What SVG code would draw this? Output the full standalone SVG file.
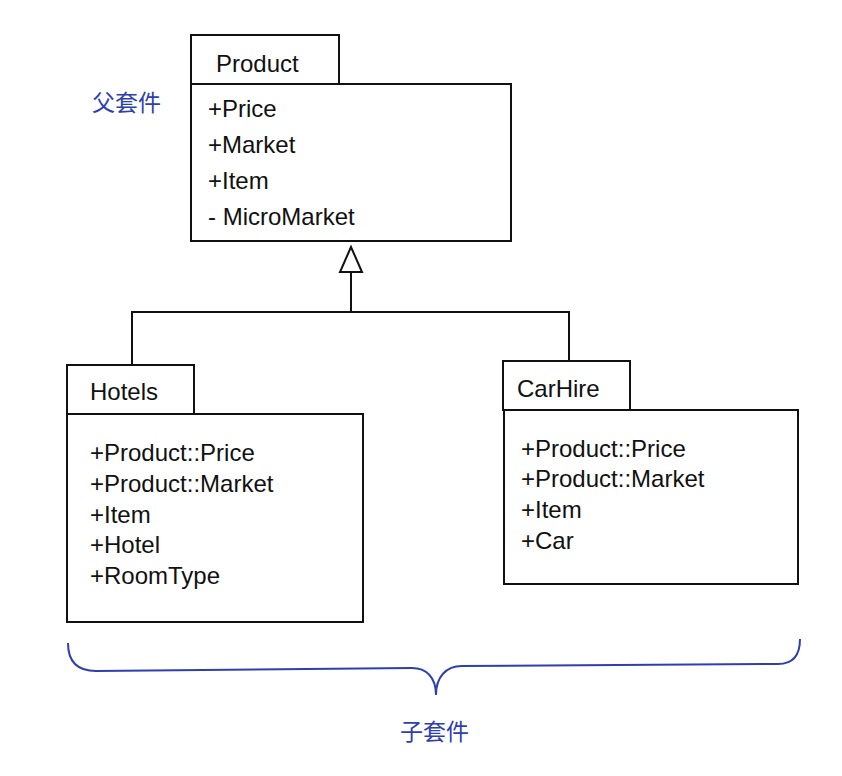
<svg xmlns="http://www.w3.org/2000/svg" width="842" height="776" viewBox="0 0 842 776">
<style>
.box{fill:#fff;stroke:#111;stroke-width:2}
.t{font-family:"Liberation Sans",Arial,sans-serif;font-size:24px;fill:#111}
.cn{font-family:"Noto Sans CJK SC","Noto Sans",sans-serif;font-size:23px;fill:#2f3fae}
.con{fill:none;stroke:#111;stroke-width:2}
</style>
<rect width="842" height="776" fill="#fff"/>
<g id="connectors">
<polyline class="con" points="132,365 132,312 569,312 569,361"/>
<line class="con" x1="351" y1="272" x2="351" y2="312"/>
<polygon points="351,247 340,272 362,272" fill="#fff" stroke="#111" stroke-width="2"/>
</g>
<g id="product">
<rect class="box" x="191" y="35" width="148" height="49"/>
<rect class="box" x="191" y="84" width="320" height="157"/>
<text class="t" x="216" y="72">Product</text>
<text class="t" x="208" y="117">+Price</text>
<text class="t" x="208" y="153">+Market</text>
<text class="t" x="208" y="189">+Item</text>
<text class="t" x="208" y="225">- MicroMarket</text>
</g>
<g id="hotels">
<rect class="box" x="67" y="365" width="127" height="49"/>
<rect class="box" x="67" y="414" width="296" height="208"/>
<text class="t" x="90" y="400">Hotels</text>
<text class="t" x="90" y="461">+Product::Price</text>
<text class="t" x="90" y="492">+Product::Market</text>
<text class="t" x="90" y="523">+Item</text>
<text class="t" x="90" y="553">+Hotel</text>
<text class="t" x="90" y="584">+RoomType</text>
</g>
<g id="carhire">
<rect class="box" x="503" y="361" width="127" height="49"/>
<rect class="box" x="504" y="410" width="294" height="174"/>
<text class="t" x="517" y="397">CarHire</text>
<text class="t" x="521" y="457">+Product::Price</text>
<text class="t" x="521" y="487">+Product::Market</text>
<text class="t" x="521" y="518">+Item</text>
<text class="t" x="521" y="549">+Car</text>
</g>
<g id="parent-label">
<text class="cn" x="92" y="111">父套件</text>
</g>
<g id="children-brace">
<path d="M68,643 C68,660 76,671 96,671 L412,668 C426,668 436,677 436,695 C436,677 446,666 462,666 L778,664 C793,664 800,655 800,639" fill="none" stroke="#2f3fae" stroke-width="2"/>
<text class="cn" x="400" y="740">子套件</text>
</g>
</svg>
